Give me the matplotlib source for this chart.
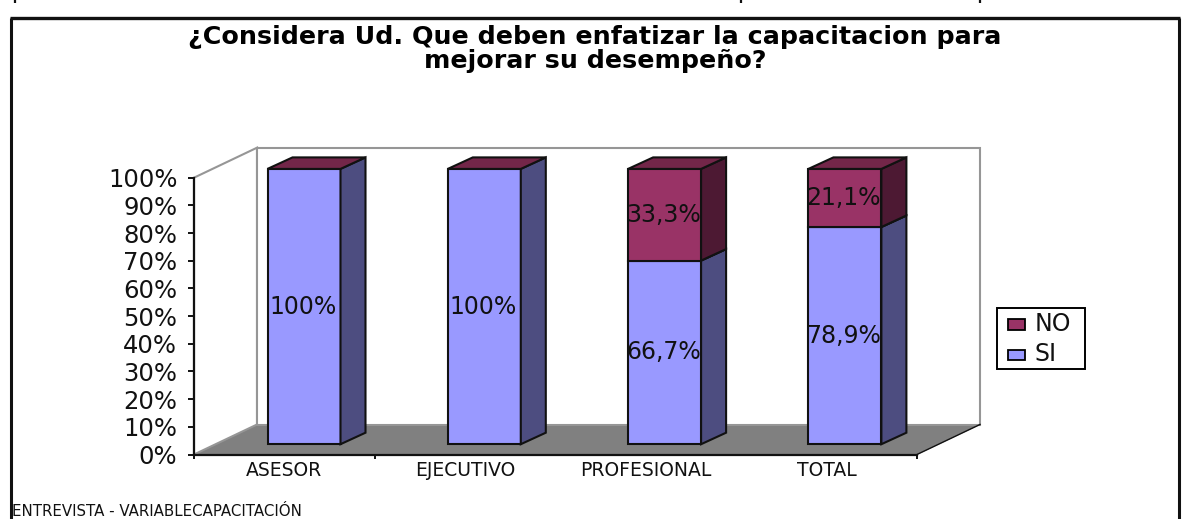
import matplotlib
matplotlib.use("Agg")
import matplotlib.pyplot as plt
from matplotlib.patches import Polygon, Rectangle

plt.rcParams["font.family"] = ["DejaVu Sans"]

categories = ["ASESOR", "EJECUTIVO", "PROFESIONAL", "TOTAL"]
si_values = [100.0, 100.0, 66.7, 78.9]
no_values = [0.0, 0.0, 33.3, 21.1]
si_labels = ["100%", "100%", "66,7%", "78,9%"]
no_labels = ["", "", "33,3%", "21,1%"]
y_ticks = list(range(0, 101, 10))
title_lines = "¿Considera Ud. Que deben enfatizar la capacitacion para\nmejorar su desempeño?"
footer = "ENTREVISTA - VARIABLECAPACITACIÓN"

W, H = 1182, 519
fig = plt.figure(figsize=(W / 100, H / 100), dpi=100, facecolor="white")


def rect(x0, y0, x1, y1):
    return [x0 / W, 1 - y1 / H, (x1 - x0) / W, (y1 - y0) / H]


# page layer, pixel coordinates
bg = fig.add_axes([0, 0, 1, 1], zorder=0)
bg.set_xlim(0, W)
bg.set_ylim(H, 0)
bg.axis("off")
bg.plot([11, 11], [18, 519], color="#111111", lw=2.2, solid_capstyle="butt")
bg.plot([1179, 1179], [18, 519], color="#111111", lw=2.2, solid_capstyle="butt")
bg.plot([10, 1180], [18, 18], color="#111111", lw=2.4, solid_capstyle="butt")
for xm in (15, 741, 980):
    bg.plot([xm, xm], [0, 3], color="#111111", lw=1.6, solid_capstyle="butt")
bg.text(595, 49, title_lines, ha="center", va="center", fontsize=18.3,
        fontweight="bold", linespacing=0.98, color="black")
bg.text(12, 511, footer, ha="left", va="center", fontsize=10.8, color="#111111")

# legend
bg.add_patch(Rectangle((997, 307.7), 88, 61, fc="white", ec="black", lw=1.4))
bg.add_patch(Rectangle((1008, 319), 17, 10.5, fc="#993366", ec="black", lw=1.3))
bg.add_patch(Rectangle((1008, 349.5), 17, 10.5, fc="#9999FF", ec="black", lw=1.3))
bg.text(1035, 324, "NO", va="center", fontsize=17, color="#111111")
bg.text(1035, 354, "SI", va="center", fontsize=17, color="#111111")

# chart axes: front plane of the 3-D box
ax = fig.add_axes(rect(194, 177.7, 917, 454.5), zorder=1)
ax.set_xlim(0, 4)
ax.set_ylim(0, 100)
ax.patch.set_alpha(0)
for s in ("top", "right"):
    ax.spines[s].set_visible(False)
for s in ("left", "bottom"):
    ax.spines[s].set_linewidth(1.6)
    ax.spines[s].set_color("#111111")
ax.set_yticks(y_ticks)
ax.set_yticklabels([f"{v}%" for v in y_ticks], fontsize=17.5, color="#111111")
ax.set_xticks([0, 1, 4], minor=True)
ax.set_xticks([i + 0.5 for i in range(4)])
ax.set_xticklabels(categories, fontsize=13.5, color="#111111")
ax.tick_params(axis="x", which="major", length=0, pad=5)
ax.tick_params(axis="x", which="minor", length=3, width=1.4, color="#111111")
ax.tick_params(axis="y", length=4, width=1.4, color="#111111", pad=8)

px_x = 4 / 723
px_y = 100 / 276.8
DX = 63 * px_x       # depth offset of the box
DY = 30 * px_y
dx = 25 * px_x       # depth offset of a bar
dy = 11.5 * px_y
half = 36.5 * px_x
slot = 180.3 * px_x  # bar spacing
shift = 110 * px_x   # centre of the first bar
lift = 10.3 * px_y
scale = 275.3 / 276.8


def poly(pts, fc, ec="#111111", lw=1.5, z=3):
    ax.add_patch(Polygon(pts, closed=True, fc=fc, ec=ec, lw=lw, zorder=z,
                         clip_on=False, joinstyle="miter"))


# floor and back wall
poly([(0, 0), (DX, DY), (4 + DX, DY), (4, 0)], "#808080", ec="#808080", lw=0.5, z=1)
poly([(0, 0), (DX, DY), (DX, 100 + DY), (0, 100)], "white", ec="#969696", lw=1.5, z=1)
poly([(DX, DY), (DX, 100 + DY), (4 + DX, 100 + DY), (4 + DX, DY)], "white", ec="#969696", lw=1.5, z=1)
ax.plot([4, 4 + DX], [0, DY], color="#111111", lw=1, clip_on=False, zorder=1.5)


def block(xc, b0, b1, front, side, top):
    y0 = lift + b0 * scale
    y1 = lift + b1 * scale
    x0, x1 = xc - half, xc + half
    poly([(x0, y0), (x1, y0), (x1, y1), (x0, y1)], front)
    poly([(x1, y0), (x1 + dx, y0 + dy), (x1 + dx, y1 + dy), (x1, y1)], side)
    poly([(x0, y1), (x1, y1), (x1 + dx, y1 + dy), (x0 + dx, y1 + dy)], top)


for i, cat in enumerate(categories):
    xc = shift + i * slot
    s, n = si_values[i], no_values[i]
    block(xc, 0, s, "#9999FF", "#4D4D80", "#732649")
    if n > 0:
        block(xc, s, s + n, "#993366", "#4D1933", "#732649")
    ax.text(xc - 1 * px_x, lift + 0.5 * s * scale, si_labels[i], ha="center", va="center",
            fontsize=17, color="#111111", zorder=5)
    if n > 0:
        ax.text(xc - 1 * px_x, lift + (s + n / 2) * scale, no_labels[i], ha="center", va="center",
                fontsize=17, color="#111111", zorder=5)

fig.savefig("out.png", dpi=100)
